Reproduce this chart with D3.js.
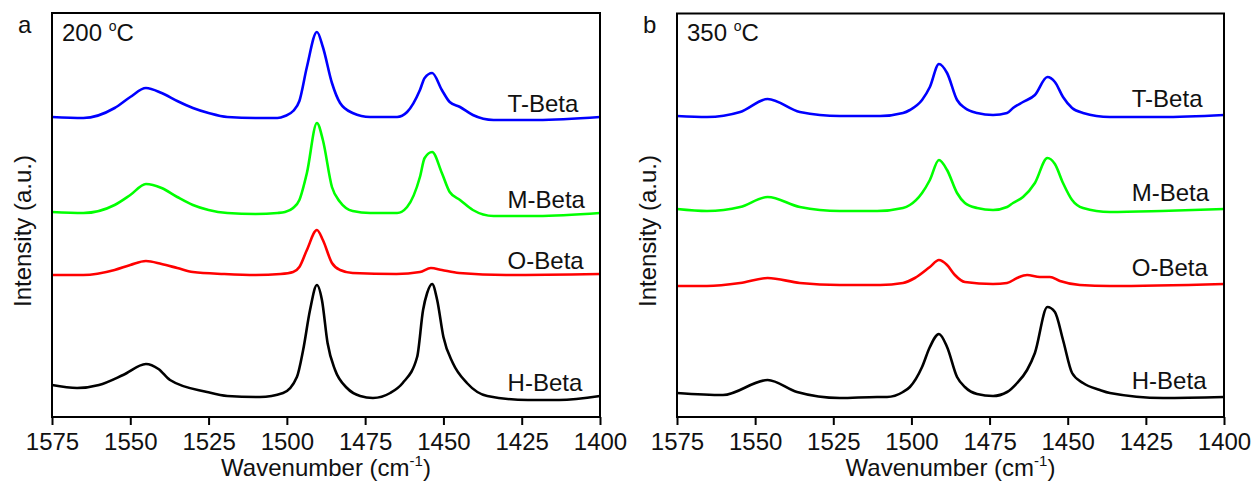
<!DOCTYPE html>
<html>
<head>
<meta charset="utf-8">
<script src="https://cdn.jsdelivr.net/npm/d3@7"></script>
<style>
  body { margin: 0; background: #fff; }
  svg { display: block; font-family: "Liberation Sans", Arial, sans-serif; }
</style>
</head>
<body>
<svg width="1256" height="488"></svg>
<script>
// x ticks (wavenumber, cm-1)
const wavenumberTicks = [1575, 1550, 1525, 1500, 1475, 1450, 1425, 1400];
const seriesNames = ["T-Beta", "M-Beta", "O-Beta", "H-Beta"];

// panel a, 200 C : [wavenumber, intensity (a.u., offset stacked)]
const tBeta200 = [[1575,3.00],[1565,2.99],[1555,3.09],[1550,3.20],[1545,3.29],[1540,3.24],[1535,3.16],[1530,3.09],[1525,3.04],[1519,3.00],[1510,2.99],[1503,2.99],[1500.6,3.01],[1498,3.06],[1496,3.16],[1493.6,3.50],[1490.4,3.85],[1488.5,3.70],[1485.6,3.34],[1483,3.14],[1479,3.04],[1473.4,3.00],[1464.8,3.00],[1461.6,3.05],[1457.5,3.27],[1456,3.39],[1453.6,3.44],[1450.5,3.27],[1448,3.15],[1444.7,3.10],[1440.6,3.02],[1434,2.97],[1420,2.97],[1400,3.00]];
const mBeta200 = [[1575,2.05],[1565,2.04],[1555,2.12],[1550,2.22],[1545,2.33],[1540,2.29],[1535,2.20],[1530,2.12],[1525,2.07],[1519,2.04],[1510,2.03],[1503,2.04],[1500.6,2.05],[1498,2.09],[1496,2.17],[1493.6,2.44],[1490.4,2.94],[1488.5,2.77],[1485.6,2.30],[1483,2.15],[1479,2.06],[1473.4,2.04],[1464.8,2.04],[1461.6,2.10],[1457.5,2.40],[1456,2.59],[1453.6,2.65],[1450.5,2.44],[1448,2.25],[1444.7,2.17],[1440.6,2.07],[1434,2.01],[1420,2.01],[1400,2.04]];
const oBeta200 = [[1575,1.42],[1565,1.42],[1555,1.47],[1550,1.52],[1545,1.56],[1540,1.53],[1535,1.49],[1530,1.45],[1520,1.43],[1510,1.42],[1502,1.43],[1498,1.45],[1496,1.50],[1493.6,1.67],[1490.4,1.87],[1488.5,1.77],[1485.6,1.54],[1483,1.47],[1479,1.44],[1465,1.43],[1457.5,1.45],[1454,1.49],[1450.5,1.47],[1445,1.44],[1430,1.42],[1400,1.43]];
const hBeta200 = [[1575,0.32],[1567,0.29],[1560,0.32],[1552.3,0.42],[1545,0.53],[1541,0.48],[1537.3,0.37],[1525.5,0.25],[1519,0.21],[1508.6,0.20],[1501.2,0.24],[1496.8,0.40],[1494.8,0.67],[1492.6,1.07],[1490.4,1.32],[1488.8,1.17],[1487,0.74],[1484.6,0.47],[1480.8,0.29],[1476.6,0.21],[1472.5,0.19],[1467,0.24],[1463,0.34],[1458.4,0.60],[1456.5,1.07],[1455.2,1.24],[1453.6,1.33],[1452,1.17],[1450,0.80],[1447,0.54],[1442.5,0.34],[1436,0.21],[1423,0.17],[1413,0.17],[1400,0.21]];

// panel b, 350 C
const tBeta350 = [[1575,3.01],[1565.4,3.00],[1554.8,3.05],[1546,3.18],[1535.7,3.05],[1522.9,3.01],[1510,3.01],[1502.7,3.04],[1500.5,3.07],[1496.6,3.17],[1494.1,3.30],[1491.2,3.53],[1488.6,3.44],[1485.4,3.17],[1482.9,3.09],[1479,3.04],[1473.9,3.02],[1469.4,3.04],[1467.5,3.09],[1464.3,3.15],[1460.5,3.22],[1456.5,3.40],[1454.1,3.35],[1451.5,3.20],[1448.6,3.09],[1445.1,3.04],[1436.5,3.00],[1420,3.00],[1400,3.02]];
const mBeta350 = [[1575,2.08],[1565.4,2.06],[1554.8,2.10],[1546,2.20],[1535.7,2.10],[1522.9,2.06],[1511,2.06],[1502.7,2.09],[1500.5,2.12],[1496.6,2.24],[1494.1,2.37],[1491.2,2.57],[1488.6,2.47],[1485.4,2.24],[1482.9,2.14],[1479,2.09],[1473.9,2.07],[1469.4,2.10],[1467.5,2.14],[1464.3,2.20],[1460.5,2.34],[1456.5,2.59],[1454.1,2.53],[1451.5,2.34],[1448.6,2.17],[1445.1,2.09],[1436.5,2.05],[1420,2.06],[1400,2.08]];
const oBeta350 = [[1575,1.31],[1565.4,1.31],[1554.8,1.34],[1546,1.39],[1535.7,1.34],[1522.9,1.32],[1510,1.32],[1502.7,1.34],[1498.9,1.39],[1494.1,1.50],[1491.2,1.57],[1488.6,1.52],[1486.1,1.42],[1482.9,1.35],[1473.9,1.33],[1469.4,1.34],[1466.2,1.39],[1463,1.42],[1458.9,1.40],[1455.7,1.40],[1452.5,1.36],[1446.1,1.32],[1436.5,1.31],[1400,1.33]];
const hBeta350 = [[1575,0.24],[1560.3,0.22],[1546,0.37],[1536.6,0.25],[1522.9,0.19],[1511,0.20],[1507.8,0.20],[1502.7,0.25],[1500.5,0.30],[1496.6,0.50],[1494.1,0.70],[1491.2,0.83],[1488.6,0.70],[1485.4,0.40],[1482.9,0.30],[1479,0.23],[1473.9,0.21],[1469.4,0.25],[1466.2,0.34],[1463,0.47],[1460.5,0.64],[1456.5,1.10],[1454.1,1.05],[1451.5,0.77],[1448.6,0.44],[1445.1,0.34],[1439.7,0.27],[1436.5,0.24],[1419.5,0.19],[1400,0.20]];

const colors = ["#0000ff", "#00ff00", "#ff0000", "#000000"];

const panels = [
  { letter: "a", temp: "200", series: [tBeta200, mBeta200, oBeta200, hBeta200], left: 52, right: 600, top: 13, labelDy: -5 },
  { letter: "b", temp: "350", series: [tBeta350, mBeta350, oBeta350, hBeta350], left: 677, right: 1224, top: 13.5, labelDy: -8 }
];

const svg = d3.select("svg");
const bottom = 417;
const fontSize = 24;

panels.forEach(p => {
  const g = svg.append("g");
  const xScale = d3.scaleLinear().domain([1575, 1400]).range([p.left, p.right]);
  const yScale = d3.scaleLinear().domain([0, 4.04]).range([bottom, 13]);

  const line = d3.line()
    .curve(d3.curveMonotoneX)
    .x(d => xScale(d[0]))
    .y(d => yScale(d[1]));

  p.series.forEach((s, i) => {
    g.append("path")
      .datum(s)
      .attr("fill", "none")
      .attr("stroke", colors[i])
      .attr("stroke-width", 2.6)
      .attr("stroke-linejoin", "round")
      .attr("d", line);
    // series label sits just above the right end of its trace
    g.append("text")
      .attr("x", xScale(1429.5))
      .attr("y", yScale(s[s.length - 1][1]) + p.labelDy)
      .attr("font-size", fontSize)
      .attr("fill", "#111")
      .text(seriesNames[i]);
  });

  // frame
  g.append("rect")
    .attr("x", p.left).attr("y", p.top)
    .attr("width", p.right - p.left).attr("height", bottom - p.top)
    .attr("fill", "none").attr("stroke", "#000").attr("stroke-width", 2);

  const xAxis = d3.axisBottom(xScale)
    .tickValues(wavenumberTicks)
    .tickSize(8)
    .tickPadding(8)
    .tickFormat(d3.format("d"));
  const ax = g.append("g")
    .attr("transform", `translate(0,${bottom})`)
    .call(xAxis);
  ax.select(".domain").remove();
  ax.selectAll(".tick line").attr("stroke-width", 2);
  ax.selectAll(".tick text")
    .attr("font-size", fontSize)
    .attr("font-family", "Liberation Sans, Arial, sans-serif")
    .attr("fill", "#111");

  // x title
  const xt = g.append("text")
    .attr("x", (p.left + p.right) / 2)
    .attr("y", 476)
    .attr("text-anchor", "middle")
    .attr("font-size", fontSize)
    .attr("fill", "#111");
  xt.append("tspan").text("Wavenumber (cm");
  xt.append("tspan").attr("dy", -10).attr("font-size", 15).text("-1");
  xt.append("tspan").attr("dy", 10).text(")");

  // y title
  g.append("text")
    .attr("transform", `translate(${p.left - 21},231) rotate(-90)`)
    .attr("text-anchor", "middle")
    .attr("font-size", fontSize)
    .attr("fill", "#111")
    .text("Intensity (a.u.)");

  // panel letter
  g.append("text")
    .attr("x", p.left - 34)
    .attr("y", 33)
    .attr("font-size", fontSize)
    .attr("fill", "#111")
    .text(p.letter);

  // temperature
  const tt = g.append("text")
    .attr("x", p.left + 10)
    .attr("y", 41)
    .attr("font-size", fontSize)
    .attr("fill", "#111");
  tt.append("tspan").text(p.temp + " ");
  tt.append("tspan").attr("dy", -10).attr("font-size", 14).text("o");
  tt.append("tspan").attr("dy", 10).text("C");
});
</script>
</body>
</html>
